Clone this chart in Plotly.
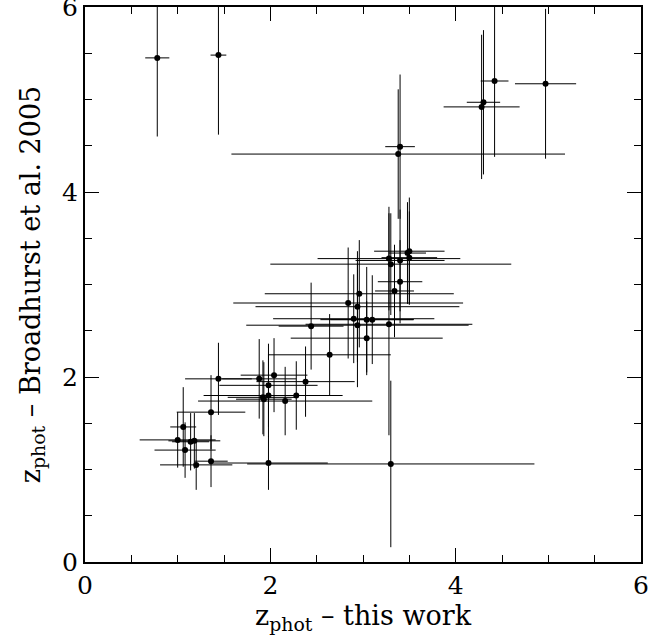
import plotly.graph_objects as go

# photometric redshift: this work (x) vs Broadhurst et al. 2005 (y)
z_this = [0.78, 1.44, 4.28, 4.30, 4.42, 4.97, 3.40, 3.38,
          3.50, 3.48, 3.28, 3.40, 3.50, 3.30, 3.40, 3.34,
          2.96, 2.84, 2.94, 2.90, 3.04, 3.10, 2.94, 3.28,
          2.44, 3.04, 2.64, 1.88, 2.04, 1.98, 2.38, 1.98,
          2.28, 1.92, 1.93, 2.16, 1.44, 1.36, 1.06, 1.00,
          1.08, 1.14, 1.18, 1.20, 1.36, 1.98, 3.30]
z_broad = [5.45, 5.48, 4.92, 4.97, 5.20, 5.17, 4.49, 4.41,
           3.36, 3.34, 3.28, 3.26, 3.29, 3.22, 3.03, 2.93,
           2.90, 2.80, 2.76, 2.63, 2.62, 2.62, 2.56, 2.57,
           2.55, 2.42, 2.24, 1.98, 2.02, 1.91, 1.95, 1.80,
           1.80, 1.78, 1.76, 1.74, 1.98, 1.62, 1.46, 1.32,
           1.21, 1.30, 1.31, 1.05, 1.09, 1.07, 1.06]
err_this = [0.13, 0.085, 0.41, 0.18, 0.15, 0.33, 0.16, 1.80,
            0.38, 0.20, 0.77, 0.48, 0.30, 1.30, 0.24, 0.21,
            1.02, 1.24, 1.10, 0.87, 0.50, 0.45, 1.20, 0.90,
            0.35, 0.82, 0.66, 0.40, 0.36, 0.53, 0.53, 0.70,
            0.50, 0.38, 0.30, 0.94, 0.36, 0.37, 0.14, 0.41,
            0.33, 0.20, 0.28, 0.39, 0.18, 0.64, 1.55]
err_broad = [0.85, 0.86, 0.78, 0.78, 0.82, 0.81, 0.78, 0.70,
             0.58, 0.55, 0.56, 0.55, 0.50, 0.55, 0.45, 0.50,
             0.58, 0.60, 0.60, 0.48, 0.57, 0.48, 0.67, 1.20,
             0.47, 0.40, 0.44, 0.43, 0.40, 0.45, 0.38, 0.45,
             0.37, 0.40, 0.40, 0.37, 0.39, 0.40, 0.43, 0.30,
             0.30, 0.31, 0.30, 0.27, 0.28, 0.29, 0.90]

x_ticks = [0, 2, 4, 6]
y_ticks = [0, 2, 4, 6]

FONT = "DejaVu Serif"

fig = go.Figure()
fig.add_trace(go.Scatter(
    x=z_this, y=z_broad, mode="markers",
    marker=dict(color="black", size=6),
    error_x=dict(type="data", array=err_this, color="black", thickness=1, width=0),
    error_y=dict(type="data", array=err_broad, color="black", thickness=1, width=0),
    cliponaxis=True, showlegend=False,
))

axis_common = dict(
    showgrid=False, zeroline=False, automargin=False,
    showline=True, linecolor="black", linewidth=2, mirror="allticks",
    ticks="inside", ticklen=14, tickwidth=1, tickcolor="black",
    minor=dict(dtick=0.5, ticks="inside", ticklen=7, tickwidth=1, tickcolor="black"),
    tickfont=dict(family=FONT, size=25, color="black"),
    ticklabeloverflow="allow",
)

fig.update_xaxes(range=[0, 6], tickvals=x_ticks, ticktext=[str(v) for v in x_ticks],
                 title=dict(text="z<sub>phot</sub> – this work",
                            font=dict(family=FONT, size=27, color="black"), standoff=6),
                 **axis_common)
fig.update_yaxes(range=[0, 6], tickvals=y_ticks, ticktext=[str(v) for v in y_ticks],
                 title=dict(text="z<sub>phot</sub> – Broadhurst et al. 2005",
                            font=dict(family=FONT, size=27, color="black"), standoff=14),
                 **axis_common)

fig.update_layout(
    width=649, height=643,
    margin=dict(l=85, r=8, t=7, b=81),
    paper_bgcolor="white", plot_bgcolor="white",
)

fig.write_html("out.html")
